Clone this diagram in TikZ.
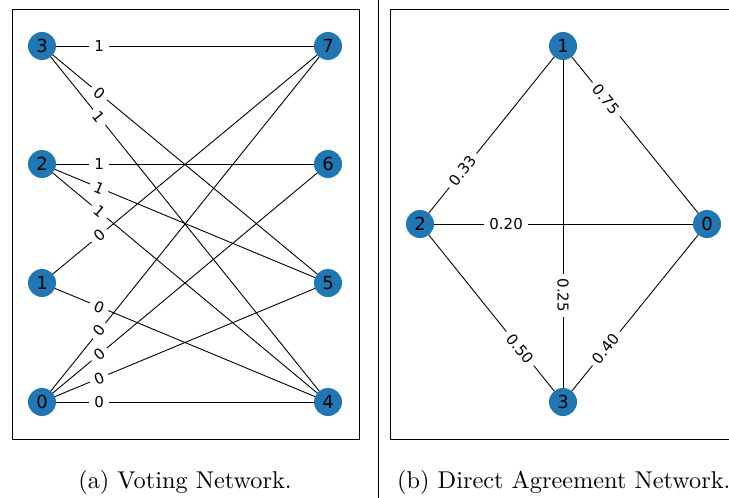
\documentclass[tikz,border=0pt]{standalone}
\usepackage{fontspec}
\usepackage{xcolor}
\newfontfamily\plotfont{DejaVu Sans}
\newfontfamily\capfont{lmroman10-regular}[Extension=.otf]
\usetikzlibrary{backgrounds}

\definecolor{nxblue}{HTML}{1F77B4}
\tikzset{
  vertex/.style={circle,fill=nxblue,minimum size=28pt,inner sep=0pt,
    font=\plotfont\fontsize{18}{18}\selectfont},
  wlabel/.style={sloped,fill=white,inner xsep=5pt,inner ysep=2pt,
    font=\plotfont\fontsize{15}{15}\selectfont},
  edge/.style={line width=0.9pt},
  frame/.style={line width=1pt},
  caption/.style={inner sep=0pt,font=\capfont\fontsize{24.3}{28}\selectfont},
}

\begin{document}
\begin{tikzpicture}[x=1pt,y=-1pt]
\clip (0,0) rectangle (729,498);
% (a) voting network
\draw[frame] (12,9) rectangle (359,439);
\foreach \i/\y in {3/46,2/164,1/283,0/402}
  \node[vertex] (va\i) at (42,\y) {\i};
\foreach \i/\y in {7/46,6/164,5/283,4/402}
  \node[vertex] (va\i) at (328,\y) {\i};
\begin{pgfonlayer}{background}
\foreach \a/\b in {3/7,3/5,3/4,2/6,2/5,2/4,1/7,1/4,0/7,0/6,0/5,0/4}
  \draw[edge] (va\a.center) -- (va\b.center);
\end{pgfonlayer}
\foreach \a/\b/\w in {3/7/1,3/5/0,3/4/1,2/6/1,2/5/1,2/4/1,1/7/0,1/4/0,0/7/0,0/6/0,0/5/0,0/4/0}
  \path (va\a.center) -- node[wlabel,pos=.2]{\w} (va\b.center);
\node[caption,anchor=base] (capa) at (185,488) {(a) Voting Network.};

\draw[frame] (378,0) -- (378,498);

% (b) direct agreement network
\draw[frame] (390,9) rectangle (740,439);
\node[vertex] (vb1) at (563,46) {1};
\node[vertex] (vb2) at (420,224) {2};
\node[vertex] (vb0) at (707,224) {0};
\node[vertex] (vb3) at (563,402) {3};
\begin{pgfonlayer}{background}
\foreach \a/\b in {2/1,1/0,2/0,1/3,2/3,3/0}
  \draw[edge] (vb\a.center) -- (vb\b.center);
\end{pgfonlayer}
\foreach \a/\b/\p/\w in {2/1/.3/0.33,1/0/.3/0.75,2/0/.3/0.20,1/3/.7/0.25,2/3/.7/0.50,3/0/.3/0.40}
  \path (vb\a.center) -- node[wlabel,pos=\p]{\w} (vb\b.center);
\node[caption,anchor=base west] (capb) at (397,488) {(b) Direct Agreement Network.};
\end{tikzpicture}
\end{document}
